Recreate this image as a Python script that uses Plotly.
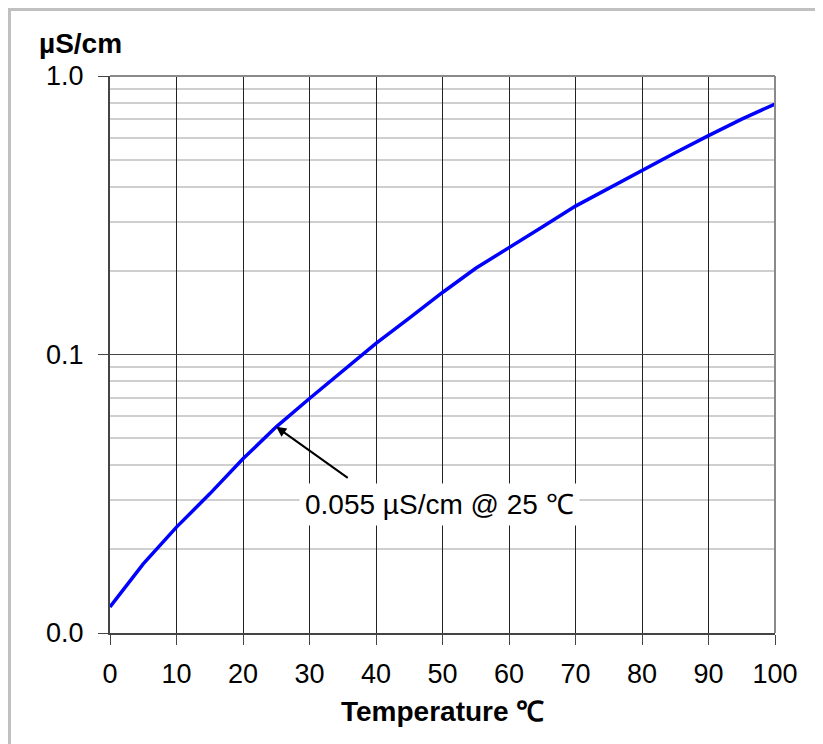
import math
import plotly.graph_objects as go

# Data
temperature_c = [0, 5, 10, 15, 20, 25, 30, 35, 40, 45, 50, 55, 60, 65, 70, 75, 80, 85, 90, 95, 100]
conductivity_us_cm = [0.0124, 0.0177, 0.0240, 0.0316, 0.0422, 0.0550, 0.0695, 0.0874, 0.1097, 0.135,
                      0.167, 0.204, 0.241, 0.287, 0.341, 0.396, 0.460, 0.530, 0.611, 0.700, 0.793]

x_tick_vals = [0, 10, 20, 30, 40, 50, 60, 70, 80, 90, 100]
y_tick_vals = [0.01, 0.1, 1.0]
y_tick_text = ["0.0", "0.1", "1.0"]
y_minor_vals = [0.02, 0.03, 0.04, 0.05, 0.06, 0.07, 0.08, 0.09,
                0.2, 0.3, 0.4, 0.5, 0.6, 0.7, 0.8, 0.9]

annot_temp = 25
annot_value = 0.055
annot_text = "0.055 µS/cm @ 25 ℃"
y_title = "µS/cm"
x_title = "Temperature ℃"

FONT = "Liberation Sans, Arial, sans-serif"

# page has an 8px body margin; plot area target: x 110..775, y 76..633 (absolute)
OFF = 8
L, T = 110 - OFF, 76 - OFF
W, H = 823 - OFF, 744 - OFF
R, B = (W + OFF) - 775, (H + OFF) - 633
PW, PH = 775 - 110, 633 - 76


def px_x(ax_px):
    return (ax_px - 110) / PW


def px_y(ay_px):
    return (633 - ay_px) / PH


fig = go.Figure()
fig.add_trace(go.Scatter(
    x=temperature_c, y=conductivity_us_cm, mode="lines",
    line=dict(color="#0000ff", width=3.5), showlegend=False, hoverinfo="skip"))

fig.update_layout(
    width=W, height=H, autosize=False,
    margin=dict(l=L, r=R, t=T, b=B, pad=0),
    paper_bgcolor="white", plot_bgcolor="white",
    font=dict(family=FONT, size=27, color="black"),
    xaxis=dict(
        range=[0, 100], tickvals=x_tick_vals, ticks="outside", ticklen=10,
        tickcolor="#444", tickwidth=1, showgrid=True, gridcolor="#222", gridwidth=1,
        showline=True, linecolor="#444", linewidth=2, zeroline=False,
        ticklabelstandoff=6, tickfont=dict(size=27)),
    yaxis=dict(
        type="log", range=[-2, 0], tickvals=y_tick_vals, ticktext=y_tick_text,
        ticks="outside", ticklen=10, tickcolor="#444", tickwidth=1,
        showgrid=True, gridcolor="#444", gridwidth=1,
        showline=True, linecolor="#444", linewidth=2, zeroline=False,
        ticklabelstandoff=9, tickfont=dict(size=27),
        minor=dict(tickvals=y_minor_vals, showgrid=True, gridcolor="#cfcfcf",
                   gridwidth=1.5, ticks="")),
)

# top and right frame (lighter)
fig.add_shape(type="line", xref="paper", yref="paper", x0=0, x1=1, y0=1, y1=1,
              line=dict(color="#8a8a8a", width=2))
fig.add_shape(type="line", xref="paper", yref="paper", x0=1, x1=1, y0=0, y1=1,
              line=dict(color="#8a8a8a", width=2))
# outer chart border
fig.add_shape(type="rect", xref="paper", yref="paper",
              x0=px_x(9.5), x1=px_x(819), y0=px_y(770), y1=px_y(9.5),
              line=dict(color="#c0c0c0", width=3), fillcolor="rgba(0,0,0,0)", layer="below")

# arrow
fig.add_annotation(x=annot_temp, y=math.log10(annot_value), xref="x", yref="y",
                   text=" ", showarrow=True, arrowhead=2, arrowsize=1, arrowwidth=2,
                   arrowcolor="black", ax=77, ay=55, standoff=0)
# label box
fig.add_annotation(x=49.6, y=-1.5368, xref="x", yref="y", text=annot_text,
                   showarrow=False, bgcolor="white", borderpad=5,
                   font=dict(size=28, family=FONT, color="black"))

fig.add_annotation(x=px_x(37), y=px_y(43), xref="paper", yref="paper",
                   text="<b>" + y_title + "</b>", showarrow=False, xanchor="left", yanchor="middle",
                   font=dict(size=28, family=FONT, color="black"))
fig.add_annotation(x=0.5, y=px_y(711), xref="paper", yref="paper",
                   text="<b>" + x_title + "</b>", showarrow=False, xanchor="center", yanchor="middle",
                   font=dict(size=28, family=FONT, color="black"))

fig.write_html("out.html")
